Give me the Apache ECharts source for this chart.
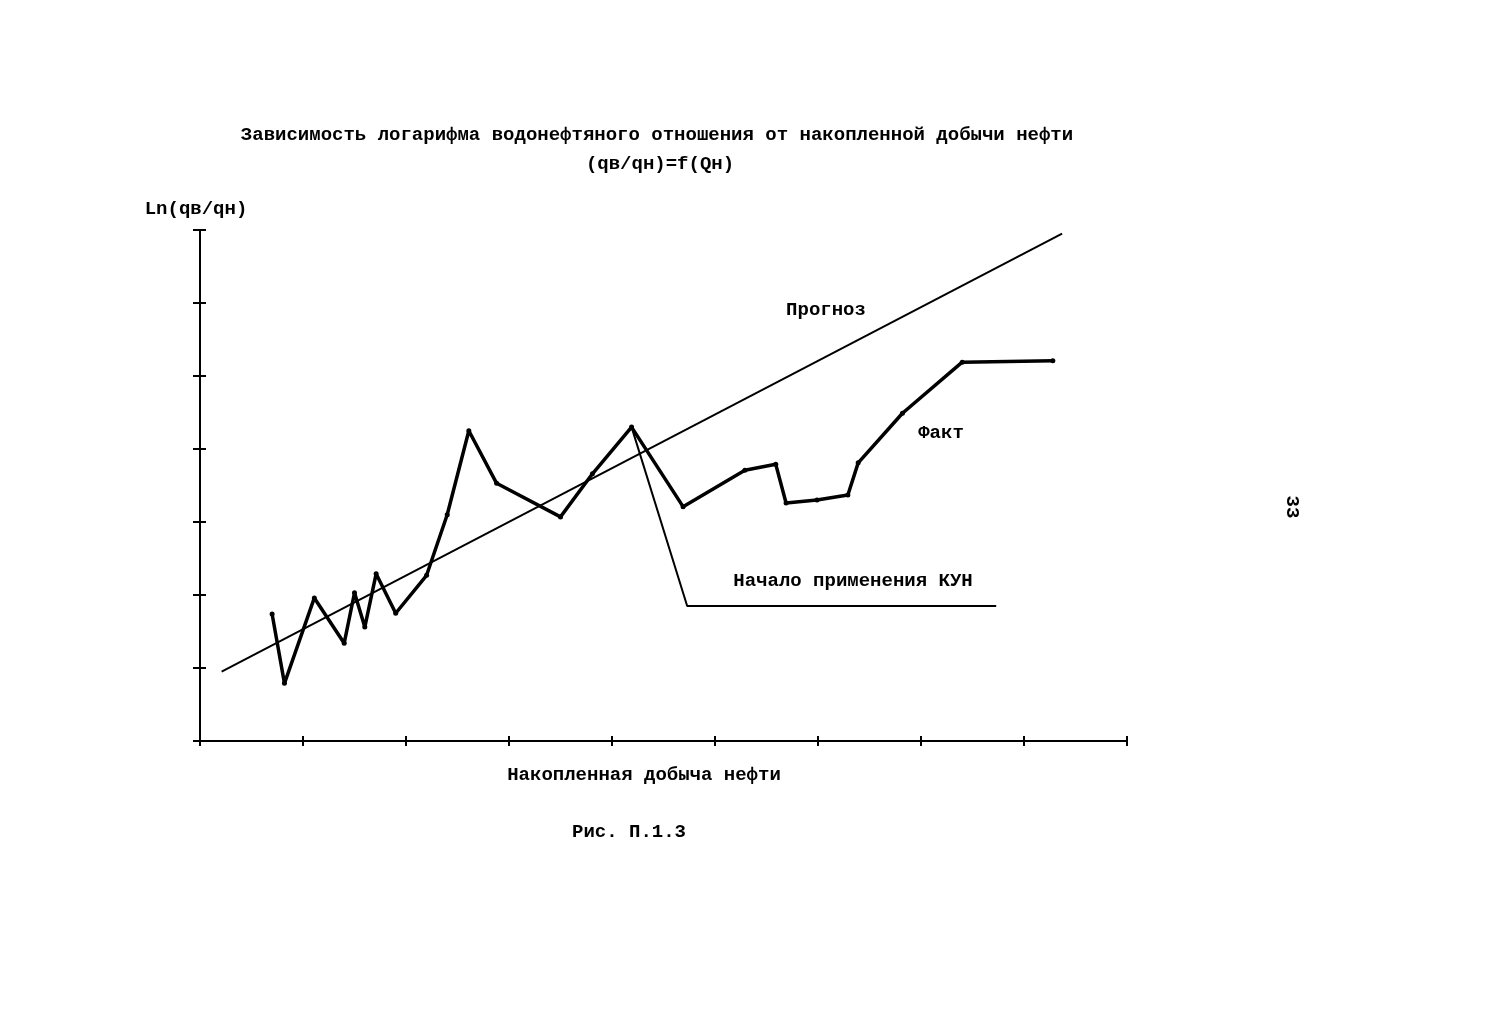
<!DOCTYPE html>
<html>
<head>
<meta charset="utf-8">
<script src="https://cdn.jsdelivr.net/npm/echarts@6/dist/echarts.min.js"></script>
<style>
html,body{margin:0;padding:0;background:#fff;}
#c{width:1495px;height:1023px;}
</style>
</head>
<body>
<div id="c"></div>
<script>
// Накопленная добыча нефти (условные деления оси X), Ln(qв/qн) (условные деления оси Y)
var factX = [0.70,0.82,1.11,1.40,1.50,1.60,1.71,1.90,2.20,2.40,2.61,2.88,3.50,3.81,4.19,4.69,5.29,5.59,5.69,5.99,6.29,6.39,6.82,7.40,8.28];
var factY = [1.74,0.79,1.96,1.34,2.03,1.56,2.29,1.75,2.27,3.10,4.25,3.53,3.07,3.66,4.30,3.21,3.71,3.79,3.26,3.30,3.37,3.81,4.49,5.19,5.21];
var forecastX = [0.21,8.37];
var forecastY = [0.95,6.95];
var kunX = [4.19,4.73,7.73];
var kunY = [4.30,1.85,1.85];
var xTicks = [0,1,2,3,4,5,6,7,8,9];
var yTicks = [0,1,2,3,4,5,6,7];

function pairs(xs, ys){ return xs.map(function(x,i){ return [x, ys[i]]; }); }

var FONT = '"Liberation Mono", "DejaVu Sans Mono", monospace';
var chart = echarts.init(document.getElementById('c'), null, {renderer:'canvas'});

var axisCommon = {
  type:'value', min:0, interval:1,
  splitLine:{show:false}, axisLabel:{show:false}
};

function txt(s, x, y, extra){
  var o = {type:'text', x:x, y:y, style:{text:s, font:'bold 19px '+FONT, fill:'#000', textAlign:'center', textVerticalAlign:'middle'}};
  if (extra) Object.assign(o, extra);
  return o;
}

chart.setOption({
  animation:false,
  backgroundColor:'#fff',
  grid:{left:200, right:368, top:230, bottom:282},
  xAxis:[
    Object.assign({}, axisCommon, {max:xTicks[xTicks.length-1], position:'bottom',
      axisLine:{show:true, onZero:false, lineStyle:{color:'#000', width:2}},
      axisTick:{show:true, inside:false, length:5, lineStyle:{color:'#000', width:2}}}),
    Object.assign({}, axisCommon, {max:xTicks[xTicks.length-1], position:'bottom', offset:0,
      axisLine:{show:false, onZero:false},
      axisTick:{show:true, inside:true, length:5, lineStyle:{color:'#000', width:2}}})
  ],
  yAxis:[
    Object.assign({}, axisCommon, {max:yTicks[yTicks.length-1], position:'left',
      axisLine:{show:true, onZero:false, lineStyle:{color:'#000', width:2}},
      axisTick:{show:true, inside:false, length:7, lineStyle:{color:'#000', width:2}}}),
    Object.assign({}, axisCommon, {max:yTicks[yTicks.length-1], position:'left', offset:0,
      axisLine:{show:false, onZero:false},
      axisTick:{show:true, inside:true, length:6, lineStyle:{color:'#000', width:2}}})
  ],
  series:[
    {name:'Прогноз', type:'line', data:pairs(forecastX, forecastY), showSymbol:false,
     lineStyle:{color:'#000', width:2}, silent:true},
    {name:'Начало применения КУН', type:'line', data:pairs(kunX, kunY), showSymbol:false,
     lineStyle:{color:'#000', width:2}, silent:true},
    {name:'Факт', type:'line', data:pairs(factX, factY), symbol:'circle', symbolSize:5,
     itemStyle:{color:'#000'}, lineStyle:{color:'#000', width:3.5}, silent:true}
  ],
  graphic:[
    txt('Зависимость логарифма водонефтяного отношения от накопленной добычи нефти', 657, 135),
    txt('(qв/qн)=f(Qн)', 660, 164),
    txt('Ln(qв/qн)', 196, 209),
    txt('Прогноз', 826, 310),
    txt('Факт', 941, 433),
    txt('Начало применения КУН', 853, 581),
    txt('Накопленная добыча нефти', 644, 775),
    txt('Рис. П.1.3', 629, 832),
    txt('33', 1292, 507, {rotation:-Math.PI/2})
  ]
});
</script>
</body>
</html>
